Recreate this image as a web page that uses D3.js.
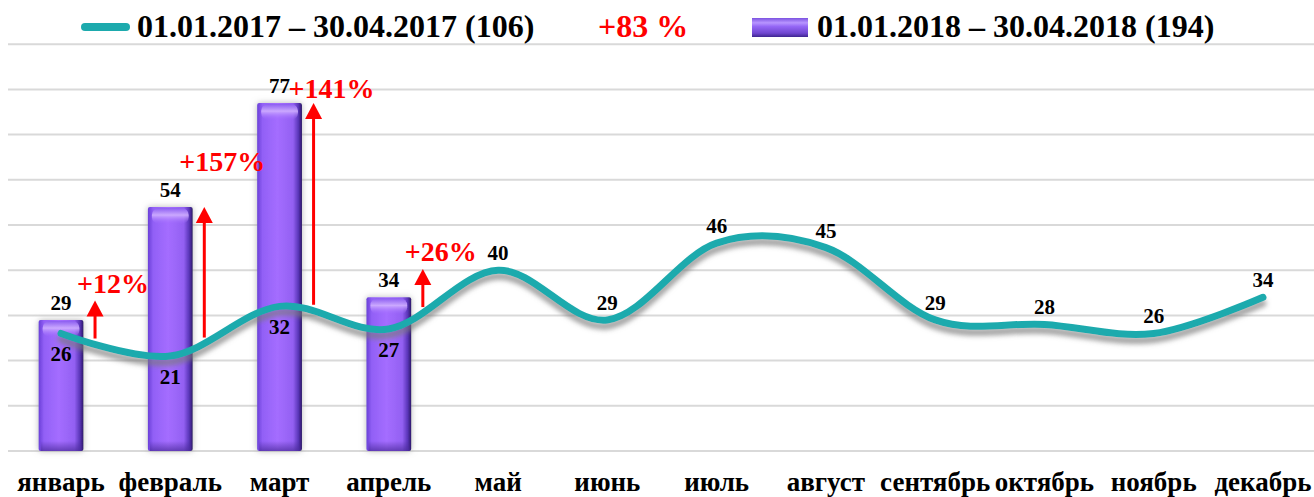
<!DOCTYPE html>
<html>
<head>
<meta charset="UTF-8">
<script src="https://d3js.org/d3.v7.min.js"></script>
<style>
  body { margin: 0; background: #fff; }
  text { font-family: "Liberation Serif", "Times New Roman", serif; font-weight: bold; }
</style>
</head>
<body>
<div class="chart"></div>
<script>
// months on the x axis
var months = ["январь","февраль","март","апрель","май","июнь","июль","август","сентябрь","октябрь","ноябрь","декабрь"];
// 2017 (line) and 2018 (bars, only jan-apr)
var values2017 = [26,21,32,27,40,29,46,45,29,28,26,34];
var values2018 = [29,54,77,34];
// growth annotations and the level (in chart units) where each label sits
var growthLabels = ["+12%","+157%","+141%","+26%"];
var growthLevel = [35,62,78,42];
var legendLine = "01.01.2017 – 30.04.2017 (106)";
var legendBars = "01.01.2018 – 30.04.2018 (194)";
var legendTotal = "+83 %";
var gridTicks = [0,10,20,30,40,50,60,70,80,90];

var width = 1314, height = 497;
var teal = "#1daaad";

var svg = d3.select(".chart").append("svg")
  .attr("width", width)
  .attr("height", height);

var defs = svg.append("defs");

var barGrad = defs.append("linearGradient").attr("id","barGrad").attr("x1","0").attr("x2","1").attr("y1","0").attr("y2","0");
[["0%","#6a3fd8"],["12%","#9260f6"],["45%","#a46dff"],["80%","#9360f2"],["92%","#5a35b8"],["100%","#2c1868"]].forEach(function(s){
  barGrad.append("stop").attr("offset",s[0]).attr("stop-color",s[1]);
});
var capGrad = defs.append("linearGradient").attr("id","capGrad").attr("x1","0").attr("x2","0").attr("y1","0").attr("y2","1");
capGrad.append("stop").attr("offset","0%").attr("stop-color","#8a5cf0").attr("stop-opacity",0.9);
capGrad.append("stop").attr("offset","45%").attr("stop-color","#d0b0ff").attr("stop-opacity",0.9);
capGrad.append("stop").attr("offset","100%").attr("stop-color","#a46dff").attr("stop-opacity",0);
var botGrad = defs.append("linearGradient").attr("id","botGrad").attr("x1","0").attr("x2","0").attr("y1","0").attr("y2","1");
botGrad.append("stop").attr("offset","0%").attr("stop-color","#4a2a9a").attr("stop-opacity",0);
botGrad.append("stop").attr("offset","100%").attr("stop-color","#4a2a9a").attr("stop-opacity",0.7);

var legGrad = defs.append("linearGradient").attr("id","legGrad").attr("x1","0").attr("x2","0").attr("y1","0").attr("y2","1");
[["0%","#7b52e0"],["25%","#b895ff"],["45%","#9466f5"],["80%","#6f46cf"],["100%","#3e2590"]].forEach(function(s){
  legGrad.append("stop").attr("offset",s[0]).attr("stop-color",s[1]);
});

var barShadow = defs.append("filter").attr("id","barShadow").attr("x","-30%").attr("y","-10%").attr("width","160%").attr("height","120%");
barShadow.append("feDropShadow").attr("dx",0).attr("dy",0).attr("stdDeviation",3).attr("flood-color","#9a9a9a").attr("flood-opacity",0.7);
var lineShadow = defs.append("filter").attr("id","lineShadow").attr("x","-5%").attr("y","-20%").attr("width","110%").attr("height","160%");
lineShadow.append("feDropShadow").attr("dx",0).attr("dy",6).attr("stdDeviation",2.5).attr("flood-color","#7a7a7a").attr("flood-opacity",0.7);

var x = d3.scaleBand()
  .domain(months)
  .range([6.4, 1317.6])
  .paddingInner(0.59)
  .paddingOuter(0.295);

var y = d3.scaleLinear()
  .domain([0, 100])
  .range([451, -1]);

function cx(i) { return x(months[i]) + x.bandwidth() / 2; }

// grid
svg.append("g").selectAll("line").data(gridTicks).enter().append("line")
  .attr("x1", 8).attr("x2", width)
  .attr("y1", function(d){ return y(d); })
  .attr("y2", function(d){ return y(d); })
  .attr("stroke", "#d9d9d9")
  .attr("stroke-width", 2);

// bars 2018
var bars = svg.append("g").selectAll("g").data(values2018).enter().append("g");
bars.append("rect")
  .attr("x", function(d,i){ return x(months[i]); })
  .attr("y", function(d){ return y(d); })
  .attr("width", x.bandwidth())
  .attr("height", function(d){ return y(0) - y(d); })
  .attr("rx", 2)
  .attr("fill", "url(#barGrad)")
  .attr("filter", "url(#barShadow)");
bars.append("rect")
  .attr("x", function(d,i){ return x(months[i]) + 4; })
  .attr("y", function(d){ return y(d) + 1; })
  .attr("width", x.bandwidth() - 8)
  .attr("height", 16)
  .attr("rx", 7)
  .attr("fill", "url(#capGrad)");
bars.append("rect")
  .attr("x", function(d,i){ return x(months[i]) + 2; })
  .attr("y", y(0) - 10)
  .attr("width", x.bandwidth() - 4)
  .attr("height", 10)
  .attr("fill", "url(#botGrad)");

// line 2017
var line = d3.line()
  .x(function(d,i){ return cx(i); })
  .y(function(d){ return y(d); })
  .curve(d3.curveCardinal.tension(0));

var path = svg.append("path")
  .datum(values2017)
  .attr("d", line)
  .attr("fill", "none")
  .attr("stroke", teal)
  .attr("stroke-width", 7)
  .attr("stroke-linecap", "round")
  .attr("filter", "url(#lineShadow)");

// y of the curve at a given x
function curveY(px) {
  var node = path.node(), len = node.getTotalLength();
  var lo = 0, hi = len, p;
  for (var k = 0; k < 40; k++) {
    var mid = (lo + hi) / 2;
    p = node.getPointAtLength(mid);
    if (p.x < px) lo = mid; else hi = mid;
  }
  return p.y;
}

// bar value labels
svg.append("g").selectAll("text").data(values2018).enter().append("text")
  .attr("x", function(d,i){ return cx(i); })
  .attr("y", function(d){ return y(d) - 10; })
  .attr("text-anchor", "middle")
  .attr("font-size", 21)
  .attr("fill", "#000")
  .text(function(d){ return d; });

// line value labels: below the line where a bar is present, above elsewhere
svg.append("g").selectAll("text").data(values2017).enter().append("text")
  .attr("x", function(d,i){ return cx(i); })
  .attr("y", function(d,i){ return i < values2018.length ? y(d) + 28 : y(d) - 10; })
  .attr("text-anchor", "middle")
  .attr("font-size", 21)
  .attr("fill", "#000")
  .text(function(d){ return d; });

// growth arrows
var arrows = svg.append("g").selectAll("g").data(values2018).enter().append("g");
arrows.each(function(d,i){
  var g = d3.select(this);
  var ax = cx(i) + 34;
  var bottom = curveY(ax) - 6;
  var top = Math.min(y(d), bottom - 38);
  g.append("line")
    .attr("x1", ax).attr("x2", ax)
    .attr("y1", bottom).attr("y2", top + 12)
    .attr("stroke", "#ff0000")
    .attr("stroke-width", 3);
  g.append("path")
    .attr("d", "M" + (ax - 8.5) + "," + (top + 16) + "L" + ax + "," + top + "L" + (ax + 8.5) + "," + (top + 16) + "Z")
    .attr("fill", "#ff0000");
  g.append("text")
    .attr("x", ax + 18)
    .attr("y", y(growthLevel[i]))
    .attr("text-anchor", "middle")
    .attr("font-size", 28)
    .attr("fill", "#ff0000")
    .text(growthLabels[i]);
});

// month labels
svg.append("g").selectAll("text").data(months).enter().append("text")
  .attr("x", function(d){ return x(d) + x.bandwidth() / 2; })
  .attr("y", 491)
  .attr("text-anchor", "middle")
  .attr("font-size", 27)
  .attr("fill", "#000")
  .text(function(d){ return d; });

// legend
var legend = svg.append("g");
legend.append("rect").attr("x", 0).attr("y", 0).attr("width", width).attr("height", 43).attr("fill", "#fff");
legend.append("line")
  .attr("x1", 85).attr("x2", 126).attr("y1", 27).attr("y2", 27)
  .attr("stroke", teal).attr("stroke-width", 8).attr("stroke-linecap", "round");
legend.append("text").attr("x", 137).attr("y", 37).attr("font-size", 32).attr("fill", "#000").text(legendLine);
legend.append("text").attr("x", 598).attr("y", 37).attr("font-size", 32).attr("fill", "#ff0000").text(legendTotal);
legend.append("rect").attr("x", 752).attr("y", 18).attr("width", 56).attr("height", 19).attr("fill", "url(#legGrad)");
legend.append("text").attr("x", 817).attr("y", 37).attr("font-size", 32).attr("fill", "#000").text(legendBars);
</script>
</body>
</html>
